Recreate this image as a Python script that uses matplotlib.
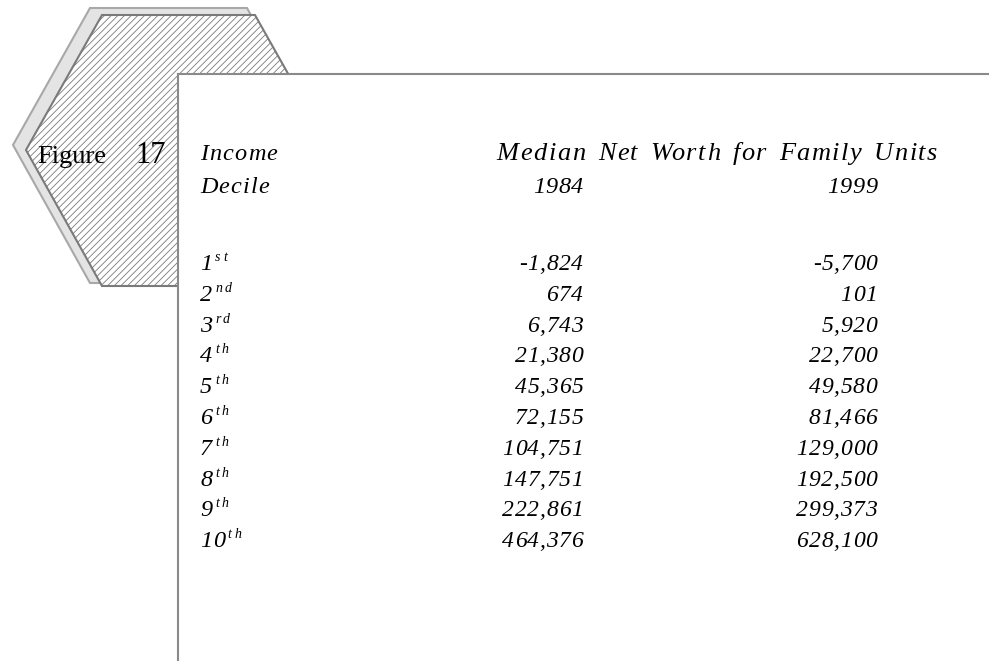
"""
Figure 17: median net worth by income decile, 1984 vs 1999 (table-style figure).
"""
import matplotlib.pyplot as plt
from matplotlib.font_manager import FontProperties
from matplotlib.patches import Polygon, Rectangle

deciles = ['1', '2', '3', '4', '5', '6', '7', '8', '9', '10']
suffixes = ['st', 'nd', 'rd', 'th', 'th', 'th', 'th', 'th', 'th', 'th']
worth_1984 = [-1824, 674, 6743, 21380, 45365, 72155, 104751, 147751, 222861, 464376]
worth_1999 = [-5700, 101, 5920, 22700, 49580, 81466, 129000, 192500, 299373, 628100]
years = ['1984', '1999']
header = 'Median Net Worth for Family Units'

plt.rcParams['hatch.color'] = '#dedede'
plt.rcParams['hatch.linewidth'] = 0.6

fig = plt.figure(figsize=(9.89, 6.61), dpi=100)
ax = fig.add_axes([0, 0, 1, 1])
ax.set_xlim(0, 989)
ax.set_ylim(661, 0)
ax.axis('off')
renderer = fig.canvas.get_renderer()

serif = 'Liberation Serif'


def tracked(x, y, s, fs=17.5, track=0.0, space=0.0, ha='left'):
    # letter-spaced italic text, one glyph per text; glyph start = total - width of the rest
    fp = FontProperties(family=serif, style='italic', size=fs)

    def W(t):
        return renderer.get_text_width_height_descent(t, fp, ismath=False)[0]

    full = W(s)
    total = full + track * (len(s) - 1) + space * s.count(' ')
    x0 = {'left': x, 'right': x - total, 'center': x - total / 2}[ha]
    for k, ch in enumerate(s):
        if ch == ' ':
            continue
        off = full - W(s[k:]) + k * track + space * s[:k].count(' ')
        ax.text(x0 + off, y, ch, fontproperties=fp, ha='left', va='baseline', zorder=5)
    return x0 + total


# hexagon badge + shadow
shadow = [(90, 8), (247, 8), (323, 145), (247, 283), (90, 283), (13, 145)]
hexa = [(102, 15), (255, 15), (331, 150), (255, 286), (102, 286), (26, 150)]
ax.add_patch(Polygon(shadow, closed=True, facecolor='#e4e4e4', edgecolor='#a8a8a8', lw=1.5))
ax.add_patch(Polygon(hexa, closed=True, facecolor='white', edgecolor='#7a7a7a',
                     lw=1.5, hatch='/////'))

# white panel
ax.add_patch(Rectangle((178, 74), 900, 700, facecolor='white', edgecolor='none', zorder=3))
ax.plot([178, 989], [74, 74], color='#8a8a8a', lw=1.5, zorder=4)
ax.plot([178, 178], [74, 661], color='#8a8a8a', lw=1.5, zorder=4)

ax.text(37, 163, 'Figure', fontsize=19, family=serif, va='baseline', ha='left')
ax.text(135, 163, '17', fontsize=22, family=serif, va='baseline', ha='left')

tracked(200, 160, 'Income', track=1.2)
tracked(200, 193, 'Decile', track=1.2)
tracked(717, 160, header, fs=19, track=1.5, space=3, ha='center')
col_x = [583, 877]
for x, yr in zip(col_x, years):
    tracked(x, 193, yr, track=0.6, ha='right')

y0, dy = 270, 30.8
for i, (d, s, a, b) in enumerate(zip(deciles, suffixes, worth_1984, worth_1999)):
    y = y0 + i * dy
    xe = tracked(200, y, d, track=0.6)
    tracked(xe + 3, y - 9, s, fs=10, track=2.5)
    tracked(col_x[0], y, f'{a:,}', fs=17, track=0.6, ha='right')
    tracked(col_x[1], y, f'{b:,}', fs=17, track=0.6, ha='right')

fig.savefig('out.png', dpi=100)
